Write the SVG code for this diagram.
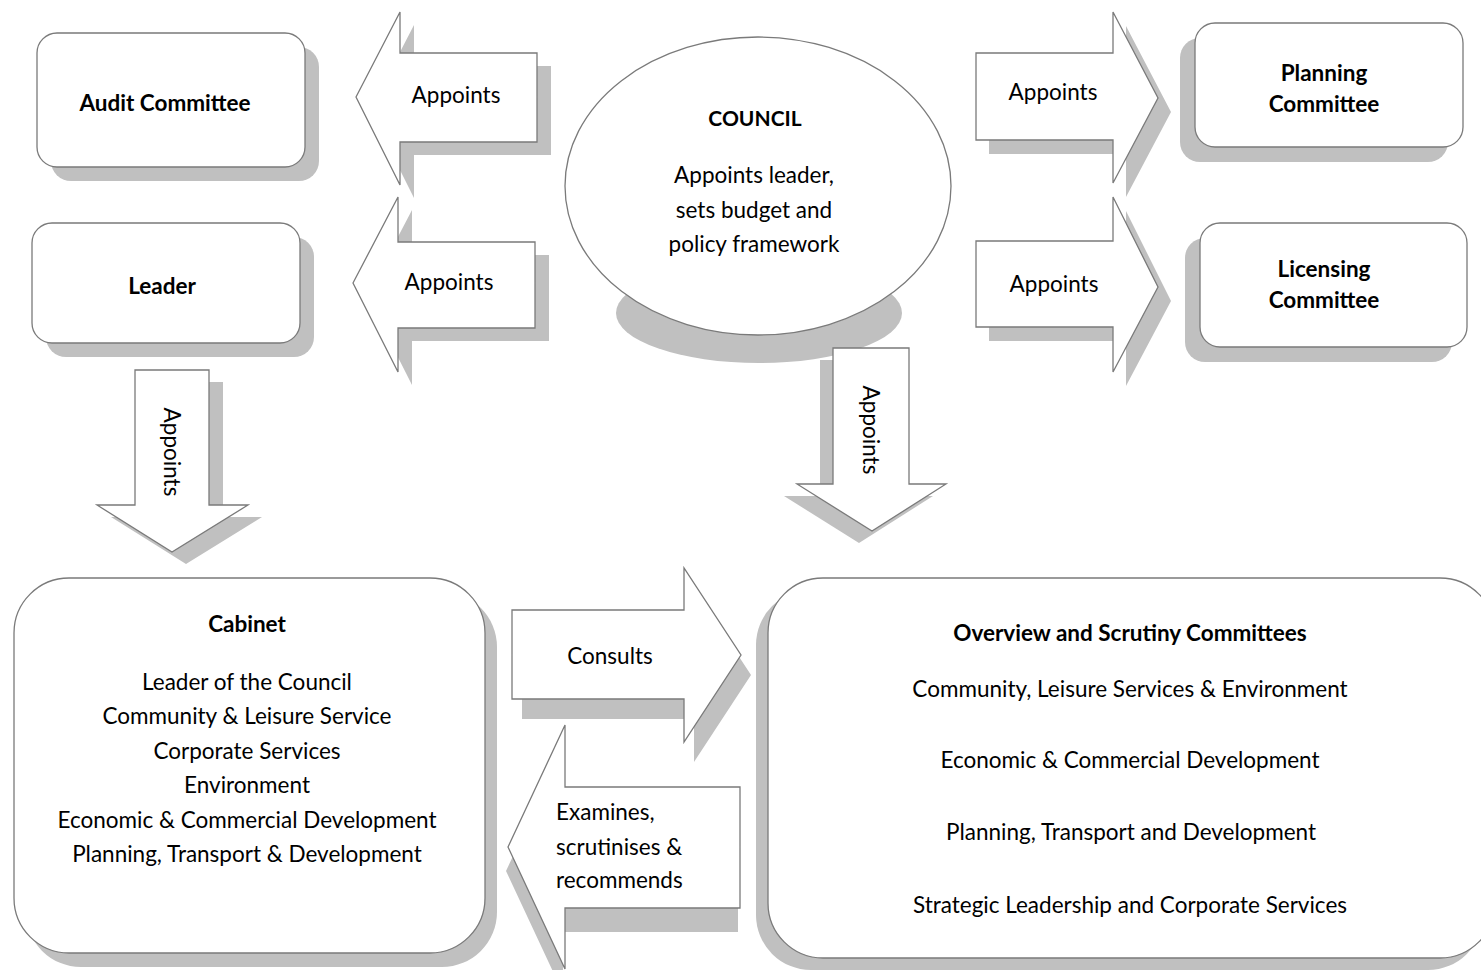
<svg xmlns="http://www.w3.org/2000/svg" width="1481" height="970" viewBox="0 0 1481 970">
<style>
.sh{fill:#c0c0c0;stroke:none}
.bx{fill:#fff;stroke:#7a7a7a;stroke-width:1.3}
.t{font-family:Lato,"Open Sans","Liberation Sans",sans-serif;font-size:22.5px;fill:#000;text-anchor:middle}
.b{font-weight:bold}
.l{text-anchor:start}
</style>
<rect width="1481" height="970" fill="#fff"/>
<g id="council">
<ellipse class="sh" cx="759" cy="313" rx="143" ry="50"/>
<ellipse class="bx" cx="758" cy="186" rx="193" ry="149"/>
<text class="t b" x="755" y="126" style="font-size:21px">COUNCIL</text>
<text class="t" x="754" y="183">Appoints leader,</text>
<text class="t" x="754" y="218">sets budget and</text>
<text class="t" x="754" y="252">policy framework</text>
</g>
<g id="audit">
<rect class="sh" x="51" y="47" width="268" height="134" rx="20"/>
<rect class="bx" x="37" y="33" width="268" height="134" rx="20"/>
<text class="t b" x="165" y="111">Audit Committee</text>
</g>
<g id="leader">
<rect class="sh" x="46" y="237" width="268" height="120" rx="20"/>
<rect class="bx" x="32" y="223" width="268" height="120" rx="20"/>
<text class="t b" x="162" y="294">Leader</text>
</g>
<g id="planning">
<rect class="sh" x="1180" y="38" width="268" height="124" rx="20"/>
<rect class="bx" x="1195" y="23" width="268" height="124" rx="20"/>
<text class="t b" x="1324" y="81">Planning</text>
<text class="t b" x="1324" y="112">Committee</text>
</g>
<g id="licensing">
<rect class="sh" x="1185" y="238" width="267" height="124" rx="20"/>
<rect class="bx" x="1200" y="223" width="267" height="124" rx="20"/>
<text class="t b" x="1324" y="277">Licensing</text>
<text class="t b" x="1324" y="308">Committee</text>
</g>
<g id="cabinet">
<rect class="sh" x="26" y="592" width="471" height="375" rx="55"/>
<rect class="bx" x="14" y="578" width="471" height="375" rx="55"/>
<text class="t b" x="247" y="632">Cabinet</text>
<text class="t" x="247" y="690">Leader of the Council</text>
<text class="t" x="247" y="724">Community &amp; Leisure Service</text>
<text class="t" x="247" y="759">Corporate Services</text>
<text class="t" x="247" y="793">Environment</text>
<text class="t" x="247" y="828">Economic &amp; Commercial Development</text>
<text class="t" x="247" y="862">Planning, Transport &amp; Development</text>
</g>
<g id="overview">
<rect class="sh" x="756" y="590" width="727" height="380" rx="55"/>
<rect class="bx" x="768" y="578" width="727" height="380" rx="55"/>
<text class="t b" x="1130" y="641">Overview and Scrutiny Committees</text>
<text class="t" x="1130" y="697">Community, Leisure Services &amp; Environment</text>
<text class="t" x="1130" y="768">Economic &amp; Commercial Development</text>
<text class="t" x="1131" y="840">Planning, Transport and Development</text>
<text class="t" x="1130" y="913">Strategic Leadership and Corporate Services</text>
</g>
<g id="connectors">
<g id="appoints-audit">
<polygon class="sh" transform="translate(14,13)" points="356,97 400,12 400,53 537,53 537,142 400,142 400,185"/>
<polygon class="bx" points="356,97 400,12 400,53 537,53 537,142 400,142 400,185"/>
<text class="t" x="456" y="103">Appoints</text>
</g>
<g id="appoints-leader">
<polygon class="sh" transform="translate(14,13)" points="353,283 398,197 398,242 535,242 535,328 398,328 398,372"/>
<polygon class="bx" points="353,283 398,197 398,242 535,242 535,328 398,328 398,372"/>
<text class="t" x="449" y="290">Appoints</text>
</g>
<g id="appoints-planning">
<polygon class="sh" transform="translate(13,14)" points="976,53 1113,53 1113,12 1158,98 1113,183 1113,140 976,140"/>
<polygon class="bx" points="976,53 1113,53 1113,12 1158,98 1113,183 1113,140 976,140"/>
<text class="t" x="1053" y="100">Appoints</text>
</g>
<g id="appoints-licensing">
<polygon class="sh" transform="translate(13,14)" points="976,241 1113,241 1113,197 1158,287 1113,372 1113,327 976,327"/>
<polygon class="bx" points="976,241 1113,241 1113,197 1158,287 1113,372 1113,327 976,327"/>
<text class="t" x="1054" y="292">Appoints</text>
</g>
<g id="appoints-cabinet">
<polygon class="sh" transform="translate(14,12)" points="135,370 209,370 209,505 248,505 172,552 97,505 135,505"/>
<polygon class="bx" points="135,370 209,370 209,505 248,505 172,552 97,505 135,505"/>
<text class="t" transform="translate(164,452) rotate(90)" x="0" y="0">Appoints</text>
</g>
<g id="appoints-overview">
<polygon class="sh" transform="translate(-13,12)" points="833,348 909,348 909,484 946,484 872,531 797,484 833,484"/>
<polygon class="bx" points="833,348 909,348 909,484 946,484 872,531 797,484 833,484"/>
<text class="t" transform="translate(863,430) rotate(90)" x="0" y="0">Appoints</text>
</g>
<g id="consults">
<polygon class="sh" transform="translate(10,20)" points="512,610 684,610 684,568 741,655 684,742 684,699 512,699"/>
<polygon class="bx" points="512,610 684,610 684,568 741,655 684,742 684,699 512,699"/>
<text class="t" x="610" y="664">Consults</text>
</g>
<g id="examines">
<polygon class="sh" transform="translate(-2,24)" points="740,787 740,908 565,908 565,969 508,847 565,725 565,787"/>
<polygon class="bx" points="740,787 740,908 565,908 565,969 508,847 565,725 565,787"/>
<text class="t l" x="556" y="820">Examines,</text>
<text class="t l" x="556" y="855">scrutinises &amp;</text>
<text class="t l" x="556" y="888">recommends</text>
</g>
</g>
</svg>
